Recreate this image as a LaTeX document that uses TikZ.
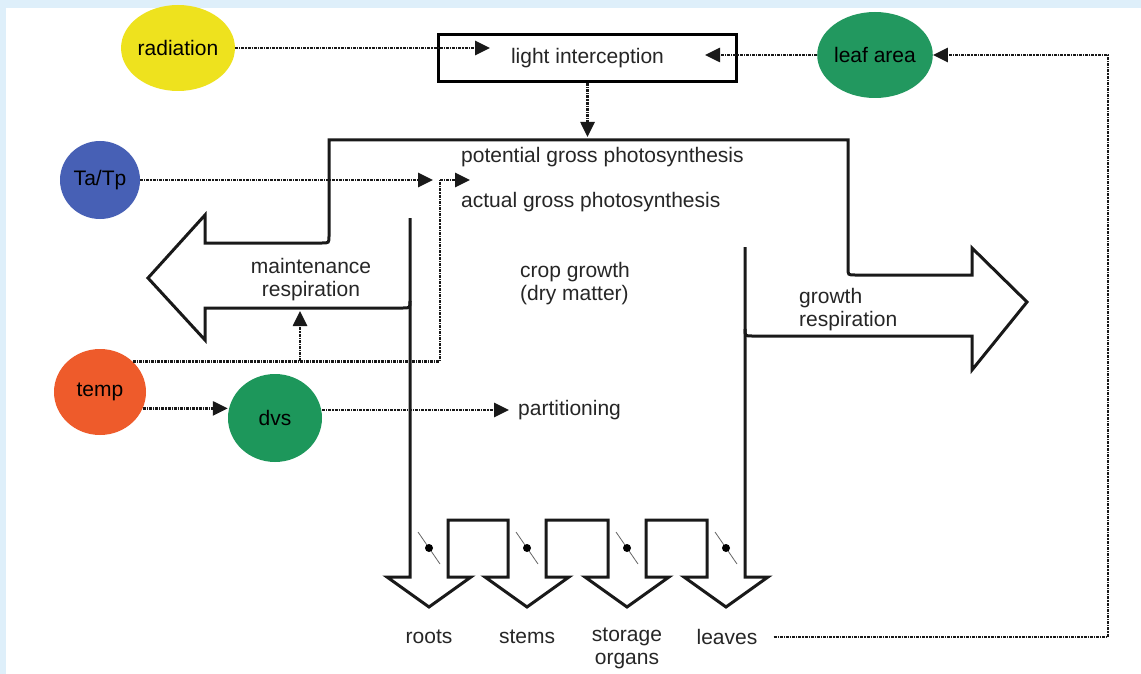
\documentclass[tikz,border=0pt]{standalone}
\usepackage{fontspec}
\setmainfont{Liberation Sans}
\usetikzlibrary{arrows.meta,shapes.geometric}
\definecolor{framebg}{HTML}{DEEFFA}
\definecolor{radyellow}{HTML}{EEE21E}
\definecolor{tatpblue}{HTML}{4760B5}
\definecolor{temporange}{HTML}{EE5B2B}
\definecolor{dvsgreen}{HTML}{1D975B}
\definecolor{leafgreen}{HTML}{22985F}
\begin{document}
\begin{tikzpicture}[x=1pt,y=-1pt,
    every node/.style={font=\fontsize{21}{23}\selectfont, text=black!85},
    blob/.style={ellipse, inner sep=0pt, minimum width=92pt, minimum height=86pt, text=black},
    lbl/.style={inner sep=0pt},
    flow/.style={line width=2.6pt, black!90, dash pattern=on 3pt off 1pt on 1.2pt off 1pt},
    flowarrow/.style={flow, -{Triangle[length=15pt,width=14pt]}},
    outline/.style={line width=3pt, black!90}]
    \useasboundingbox (0,0) rectangle (1141,674);
    \fill[framebg] (0,0) rectangle (1141,674);
    \fill[white] (6,8) rectangle (1141,674);

    \node[blob, fill=radyellow, minimum width=90pt] (radiation) at (178,48) {radiation};
    \node[blob, fill=leafgreen] (leafarea) at (875,55) {leaf area};
    \node[blob, fill=tatpblue, minimum width=80pt, minimum height=78pt] (tatp) at (100,180) {Ta/Tp};
    \node[blob, fill=temporange] (temp) at (100,392) {temp};
    \node[blob, fill=dvsgreen, minimum width=94pt, minimum height=88pt] (dvs) at (275,418) {dvs};
    \node[draw, line width=3pt, minimum width=298pt, minimum height=47pt, inner sep=0pt] (lightbox) at (587.5,58) {light interception};

    \node[lbl, anchor=west] (potgross) at (461,157) {potential gross photosynthesis};
    \node[lbl, anchor=west] (actgross) at (461,202) {actual gross photosynthesis};
    \node[lbl, anchor=west, align=left] (cropgrowth) at (520,284) {crop growth\\(dry matter)};
    \node[lbl, align=center] (maintresp) at (311,280) {maintenance\\respiration};
    \node[lbl, anchor=west, align=left] (growthresp) at (799,310) {growth\\respiration};
    \node[lbl, anchor=west] (partitioning) at (518,410) {partitioning};
    \node[lbl] (roots) at (429,637) {roots};
    \node[lbl] (stems) at (527,637) {stems};
    \node[lbl, align=center] (storage) at (627,648) {storage\\organs};
    \node[lbl] (leaves) at (727,637) {leaves};

    \draw[outline] (410,301) .. controls (410,308) .. (403,308) -- (205,308) -- (205,340) -- (148,278) -- (205,215) -- (205,243) -- (322,243) .. controls (329,243) .. (329,236) -- (329,140) -- (848,140) -- (848,268) .. controls (848,275) .. (855,275) -- (972,275) -- (972,248) -- (1027,302) -- (972,370) -- (972,336) -- (752,336) .. controls (745,336) .. (745,329);
    \draw[outline] (410,218) -- (410,577) -- (387,577) -- (429,607) -- (471,577) -- (448,577) -- (448,520) -- (508,520) -- (508,577) -- (485,577) -- (527,607) -- (569,577) -- (546,577) -- (546,520) -- (608,520) -- (608,577) -- (585,577) -- (627,607) -- (669,577) -- (646,577) -- (646,520) -- (707,520) -- (707,577) -- (684,577) -- (726,607) -- (768,577) -- (745,577) -- (745,247);
    \foreach \vx in {429,527,627,726} {
        \draw[black!60, line width=0.8pt] (\vx-11,532) -- (\vx+11,564);
        \fill (\vx,548) circle (4pt);
    }

    \coordinate (radin) at (490,48);
    \draw[flowarrow] (radiation) -- (radin);
    \coordinate (leafin) at (705,55);
    \draw[flowarrow] (leafarea) -- (leafin);
    \coordinate (photoin) at (587.5,137);
    \draw[flowarrow] (lightbox.south) -- (photoin);
    \coordinate (tatpin) at (433,180);
    \draw[flowarrow] (tatp) -- (tatpin);
    \coordinate (gate) at (440,180);
    \coordinate (gatein) at (470,180);
    \coordinate (gatefoot) at (temp.north east -| gate);
    \draw[flow] (temp.north east) -- (gatefoot) -- (gate);
    \draw[flowarrow] (gate) -- (gatein);
    \coordinate (maintin) at (300,311);
    \draw[flowarrow] (maintin |- gatefoot) -- (maintin);
    \draw[flowarrow] (temp.-21) -- (temp.-21 -| dvs.west);
    \draw[flowarrow, shorten >=9pt] (dvs.east |- partitioning.west) -- (partitioning.west);
    \coordinate (fbtop) at (1108,55);
    \draw[flowarrow, shorten <=16pt] (leaves.east) -| (fbtop) -- (leafarea);
\end{tikzpicture}
\end{document}
